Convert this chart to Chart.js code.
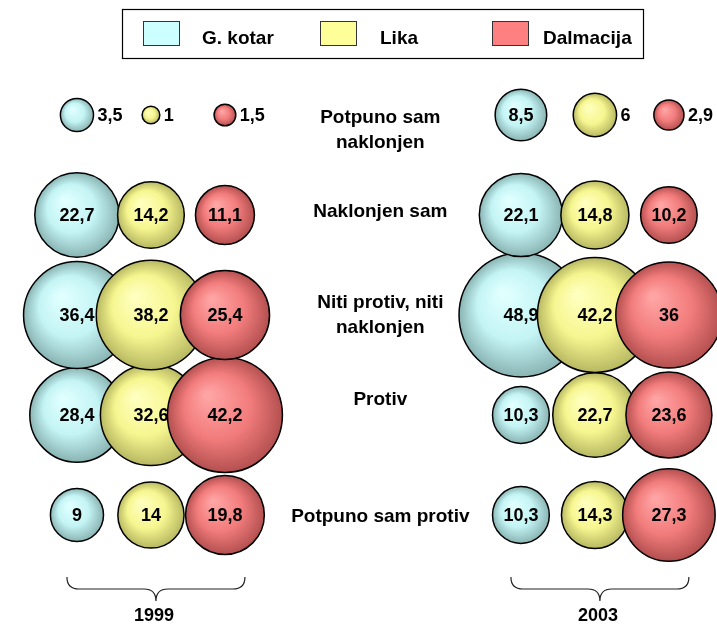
<!DOCTYPE html>
<html>
<head>
<meta charset="utf-8">
<script src="https://cdn.jsdelivr.net/npm/chart.js@4/dist/chart.umd.min.js"></script>
<style>
  body { margin: 0; background: #fff; }
  #wrap { width: 717px; height: 627px; }
</style>
</head>
<body>
<div id="wrap"><canvas id="bubbleChart" width="717" height="627"></canvas></div>
<script>
const years = ['1999', '2003'];
const regions = ['G. kotar', 'Lika', 'Dalmacija'];
const categories = [
    ['Potpuno sam', 'naklonjen'],
    ['Naklonjen sam'],
    ['Niti protiv, niti', 'naklonjen'],
    ['Protiv'],
    ['Potpuno sam protiv']
];

const gKotar1999 = [3.5, 22.7, 36.4, 28.4, 9];
const lika1999 = [1, 14.2, 38.2, 32.6, 14];
const dalmacija1999 = [1.5, 11.1, 25.4, 42.2, 19.8];

const gKotar2003 = [8.5, 22.1, 48.9, 10.3, 10.3];
const lika2003 = [6, 14.8, 42.2, 22.7, 14.3];
const dalmacija2003 = [2.9, 10.2, 36, 23.6, 27.3];

const colors = [
    { flat: '#CCFFFF', light: '#e0ffff', mid: '#c4f4f4', dark: '#8ab4b4' },
    { flat: '#FFFF99', light: '#ffffbe', mid: '#f6f690', dark: '#b8b862' },
    { flat: '#FF8080', light: '#ffa4a4', mid: '#f27c7c', dark: '#b45050' }
];

const FONT = "'Liberation Sans', Arial, sans-serif";
const RADIUS_K = 8.85;       // bubble radius = k * sqrt(value)
const yearX = [1, 7];        // x of the first region in each year group
const catLabelX = 5.1;
const catLabelShift = [15, -3, 0, -15, 2];

// build points: upper rows drawn last so they sit on top
function makePoints(values1999, values2003, regionIndex) {
    const pts = [];
    for (let i = categories.length - 1; i >= 0; i--) {
        pts.push({ x: yearX[0] + regionIndex, y: 5 - i, r: RADIUS_K * Math.sqrt(values1999[i]), v: values1999[i] });
        pts.push({ x: yearX[1] + regionIndex, y: 5 - i, r: RADIUS_K * Math.sqrt(values2003[i]), v: values2003[i] });
    }
    return pts;
}

function bubbleFill(c) {
    return (context) => {
        if (context.type !== 'data' || !context.raw) return c.flat;
        const chart = context.chart;
        const x = chart.scales.x.getPixelForValue(context.raw.x);
        const y = chart.scales.y.getPixelForValue(context.raw.y);
        const r = context.raw.r;
        if (!isFinite(x) || !isFinite(y) || !isFinite(r)) return c.flat;
        const g = chart.ctx.createRadialGradient(x - r * 0.3, y - r * 0.35, r * 0.05, x, y, r);
        g.addColorStop(0, c.light);
        g.addColorStop(0.55, c.mid);
        g.addColorStop(1, c.dark);
        return g;
    };
}

const seriesValues = [
    [gKotar1999, gKotar2003],
    [lika1999, lika2003],
    [dalmacija1999, dalmacija2003]
];

const datasets = regions.map((name, k) => ({
    label: name,
    data: makePoints(seriesValues[k][0], seriesValues[k][1], k),
    backgroundColor: bubbleFill(colors[k]),
    borderColor: '#000',
    borderWidth: 1.5,
    order: 3 - k,
    clip: false
}));

const formatValue = (v) => String(v).replace('.', ',');

const decorPlugin = {
    id: 'decor',
    afterDatasetsDraw(chart) {
        const ctx = chart.ctx;
        const xs = chart.scales.x;
        const ys = chart.scales.y;
        ctx.save();

        // value labels
        ctx.fillStyle = '#000';
        ctx.font = `bold 18px ${FONT}`;
        ctx.textBaseline = 'middle';
        chart.data.datasets.forEach((ds, di) => {
            const meta = chart.getDatasetMeta(di);
            meta.data.forEach((el, i) => {
                const p = ds.data[i];
                const text = formatValue(p.v);
                if (p.r < 24) {
                    ctx.textAlign = 'left';
                    ctx.fillText(text, el.x + p.r + 4, el.y + 1);
                } else {
                    ctx.textAlign = 'center';
                    ctx.fillText(text, el.x, el.y + 1);
                }
            });
        });

        // category labels in the middle
        ctx.font = `bold 19px ${FONT}`;
        ctx.textAlign = 'center';
        categories.forEach((lines, i) => {
            const cy = ys.getPixelForValue(5 - i) + catLabelShift[i];
            const cx = xs.getPixelForValue(catLabelX);
            const lh = 25;
            lines.forEach((line, j) => {
                ctx.fillText(line, cx, cy - (lines.length - 1) * lh / 2 + j * lh);
            });
        });

        // braces and year labels
        ctx.strokeStyle = '#222';
        ctx.lineWidth = 1.2;
        years.forEach((year, yi) => {
            const x1 = xs.getPixelForValue(yearX[yi]) - 10;
            const x2 = xs.getPixelForValue(yearX[yi] + 2) + 20;
            const xm = (x1 + x2) / 2;
            const yTop = 577, yMid = 589, yTip = 601, q = 12;
            ctx.beginPath();
            ctx.moveTo(x1, yTop);
            ctx.quadraticCurveTo(x1, yMid, x1 + q, yMid);
            ctx.lineTo(xm - q, yMid);
            ctx.quadraticCurveTo(xm, yMid, xm, yTip);
            ctx.quadraticCurveTo(xm, yMid, xm + q, yMid);
            ctx.lineTo(x2 - q, yMid);
            ctx.quadraticCurveTo(x2, yMid, x2, yTop);
            ctx.stroke();
            ctx.font = `bold 18px ${FONT}`;
            ctx.textAlign = 'center';
            ctx.fillText(year, xm - 2, 616);
        });

        // legend box
        ctx.lineWidth = 1.2;
        ctx.strokeStyle = '#000';
        ctx.strokeRect(122.5, 9.5, 521, 49);
        const boxX = [143, 320, 492];
        const textX = [202, 380, 543];
        ctx.font = `bold 19px ${FONT}`;
        ctx.textAlign = 'left';
        ctx.textBaseline = 'alphabetic';
        regions.forEach((name, k) => {
            ctx.fillStyle = colors[k].flat;
            ctx.fillRect(boxX[k] + 0.5, 21.5, 36, 24);
            ctx.strokeStyle = '#333';
            ctx.lineWidth = 1;
            ctx.strokeRect(boxX[k] + 0.5, 21.5, 36, 24);
            ctx.fillStyle = '#000';
            ctx.fillText(name, textX[k], 44);
        });

        ctx.restore();
    }
};

const chart = new Chart(document.getElementById('bubbleChart'), {
    type: 'bubble',
    data: { datasets: datasets },
    options: {
        responsive: false,
        animation: false,
        events: [],
        layout: { padding: 0, autoPadding: false },
        plugins: {
            legend: { display: false },
            tooltip: { enabled: false }
        },
        scales: {
            x: { type: 'linear', min: -0.04, max: 9.65, display: false },
            y: { type: 'linear', min: -0.12, max: 6.15, display: false }
        }
    },
    plugins: [decorPlugin]
});
</script>
</body>
</html>
